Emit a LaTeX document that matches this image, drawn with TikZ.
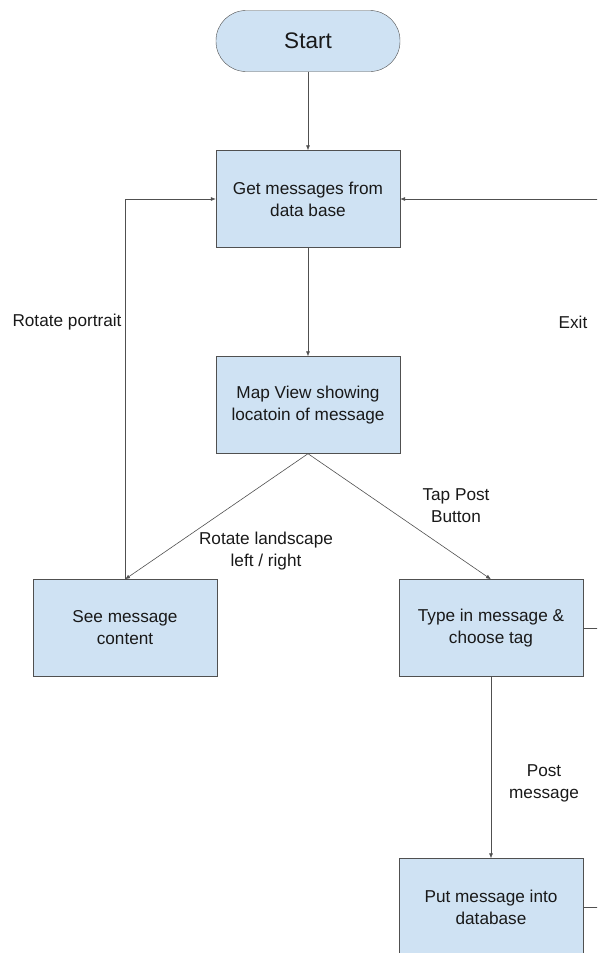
\documentclass[tikz,border=0pt]{standalone}
\usepackage{fontspec}
\setmainfont{Liberation Sans}
\usetikzlibrary{arrows.meta}
\definecolor{boxblue}{HTML}{CFE2F3}
\definecolor{linegray}{HTML}{505050}
\begin{document}
\begin{tikzpicture}[x=1pt,y=-1pt,
    box/.style={draw=linegray, fill=boxblue, minimum width=184pt, minimum height=97pt,
        align=center, font=\fontsize{17.2}{22}\selectfont, text=black!90},
    lbl/.style={align=center, font=\fontsize{17.2}{22}\selectfont, text=black!90},
    arr/.style={draw=linegray, line width=0.6pt, -{Latex[length=5pt,width=4pt]}}]
    \useasboundingbox (0,0) rectangle (597,953);
    \clip (0,0) rectangle (597,953);

    \node [box, rounded corners=30pt, minimum height=61pt,
        font=\fontsize{22.5}{24}\selectfont] (start) at (308,41) {Start};
    \node [box] (get) at (308,199) {Get messages from\\data base};
    \node [box] (map) at (308,405) {Map View showing\\locatoin of message};
    \node [box] (see) at (125,628) {See message\\content};
    \node [box] (type) at (491,628) {Type in message \&\\choose tag};
    \node [box] (put) at (491,907) {Put message into\\database};

    \draw [arr] (start) -- (get);
    \draw [arr] (get) -- (map);
    \draw [arr] (map.south) -- (see.north);
    \draw [arr] (map.south) -- (type.north);
    \draw [arr] (see.north) |- (get.west);
    \draw [arr] (type) -- (put);
    \draw [linegray, line width=0.6pt] (type.east) -- ++(40,0);
    \draw [arr] (put.east) -- ++(40,0) |- (get.east);

    \node [lbl] (portrait) at (67,322) {Rotate portrait};
    \node [lbl] (exit) at (573,322) {Exit};
    \node [lbl] (tap) at (456,506) {Tap Post\\Button};
    \node [lbl] (landscape) at (266,551) {Rotate landscape\\left / right};
    \node [lbl] (post) at (544,783) {Post\\message};
\end{tikzpicture}
\end{document}
